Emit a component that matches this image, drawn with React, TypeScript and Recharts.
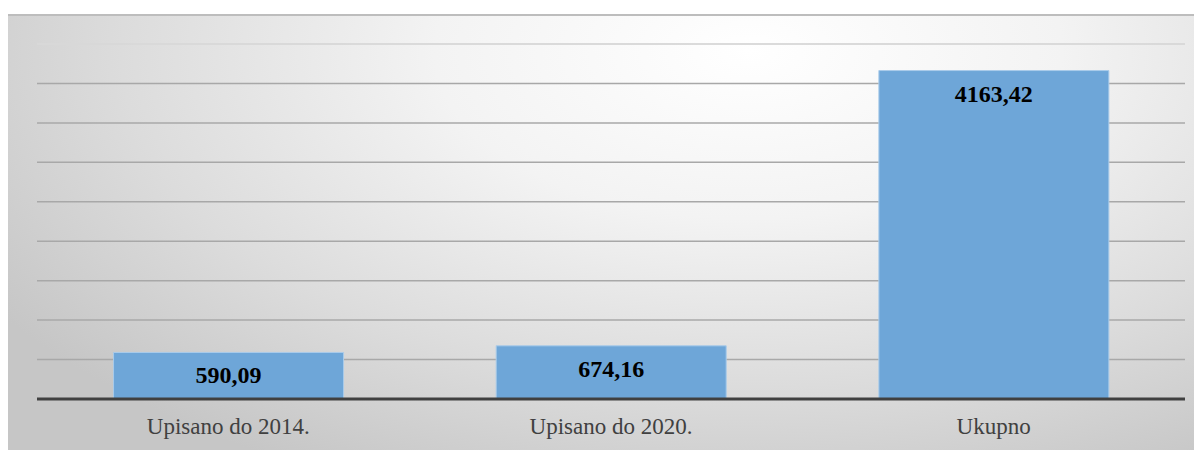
import { BarChart, Bar, XAxis, YAxis, CartesianGrid, LabelList, ReferenceLine } from 'recharts';

const categories = ['Upisano do 2014.', 'Upisano do 2020.', 'Ukupno'];
const values = [590.09, 674.16, 4163.42];
const gridTicks = [0, 500, 1000, 1500, 2000, 2500, 3000, 3500, 4000];

const data = categories.map((name, i) => ({ name, value: values[i] }));

const formatValue = (v: number) => v.toFixed(2).replace('.', ',');

const CategoryTick = (props: any) => {
    const { x, y, payload } = props;
    return (
        <text x={x} y={y + 27} textAnchor="middle" fill="#404040" fontSize={23} fontFamily="'Liberation Serif', 'Times New Roman', serif">
            {payload.value}
        </text>
    );
};

export default function App() {
    return (
        <div
            style={{
                marginTop: 6,
                width: 1194,
                height: 436,
                borderTop: '2px solid #bdbdbd',
                background: 'radial-gradient(ellipse 75% 110% at 62% 8%, #ffffff 0%, #f3f3f3 35%, #dcdcdc 70%, #c6c6c6 100%)',
            }}
        >
            <BarChart
                width={1194}
                height={434}
                data={data}
                margin={{ top: 28, right: 17, bottom: 1, left: 29 }}
                barCategoryGap="20%"
            >
                <CartesianGrid vertical={false} stroke="#a8a8a8" strokeWidth={1.5} />
                <XAxis
                    dataKey="name"
                    axisLine={{ stroke: '#404040', strokeWidth: 3 }}
                    tickLine={false}
                    height={50}
                    interval={0}
                    tick={<CategoryTick />}
                />
                <YAxis hide domain={[0, 4500]} ticks={gridTicks} />
                <ReferenceLine y={4500} stroke="#e4e4e4" strokeWidth={1.5} />
                <Bar dataKey="value" fill="#6ea6d8" stroke="#a9cbea" strokeWidth={1} isAnimationActive={false}>
                    <LabelList
                        dataKey="value"
                        position="insideTop"
                        offset={14}
                        formatter={(v: any) => formatValue(Number(v))}
                        style={{ fill: '#000', fontSize: 24, fontWeight: 'bold', fontFamily: "'Liberation Serif', 'Times New Roman', serif" }}
                    />
                </Bar>
            </BarChart>
        </div>
    );
}
